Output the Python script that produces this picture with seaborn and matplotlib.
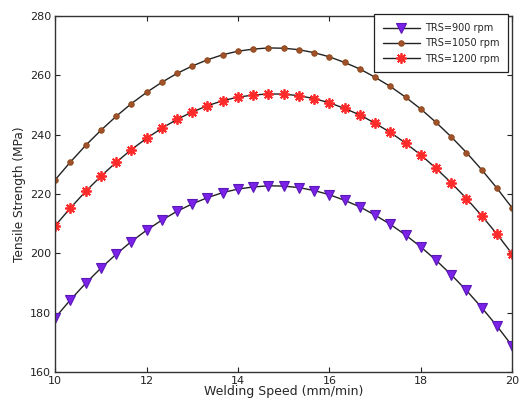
import numpy as np
import pandas as pd
import matplotlib
matplotlib.use("Agg")
import matplotlib.pyplot as plt
import seaborn as sns

speed = [10 + k / 3 for k in range(31)]

trs_900 = [178.3, 184.3, 189.9, 195.0, 199.7, 204.0, 207.8, 211.2, 214.2, 216.7,
           218.8, 220.5, 221.7, 222.4, 222.8, 222.7, 222.2, 221.2, 219.8, 217.9,
           215.7, 212.9, 209.8, 206.2, 202.2, 197.7, 192.8, 187.5, 181.7, 175.5, 168.8]
trs_1050 = [224.8, 230.8, 236.4, 241.5, 246.2, 250.5, 254.3, 257.7, 260.7, 263.2,
            265.3, 267.0, 268.2, 268.9, 269.3, 269.2, 268.7, 267.7, 266.3, 264.4,
            262.2, 259.4, 256.3, 252.7, 248.7, 244.2, 239.3, 234.0, 228.2, 222.0, 215.3]
trs_1200 = [209.3, 215.3, 220.9, 226.0, 230.7, 235.0, 238.8, 242.2, 245.2, 247.7,
            249.8, 251.5, 252.7, 253.4, 253.8, 253.7, 253.2, 252.2, 250.8, 248.9,
            246.7, 243.9, 240.8, 237.2, 233.2, 228.7, 223.8, 218.5, 212.7, 206.5, 199.8]

labels = ["TRS=900 rpm", "TRS=1050 rpm", "TRS=1200 rpm"]
x_ticks = [10, 12, 14, 16, 18, 20]
y_ticks = [160, 180, 200, 220, 240, 260, 280]

sns.set_style("ticks")
plt.rcParams['font.family'] = ['DejaVu Sans']

fig = plt.figure(figsize=(5.2, 4.05), dpi=100)
ax = fig.add_axes([0.106, 0.0815, 0.879, 0.8785])

styles = [
    dict(marker='v', markersize=7.5, markerfacecolor='#7A22E8', markeredgecolor='#5B18B8', markeredgewidth=0.8),
    dict(marker='o', markersize=4, markerfacecolor='#A0522D', markeredgecolor='#8B4513', markeredgewidth=0.6),
    dict(marker=(8, 2, 0), markersize=7.5, markerfacecolor='#FF2A2A', markeredgecolor='#FF2A2A', markeredgewidth=1.3),
]
for vals, lab, st in zip([trs_900, trs_1050, trs_1200], labels, styles):
    df = pd.DataFrame({"speed": speed, "ts": vals})
    sns.lineplot(data=df, x="speed", y="ts", ax=ax, color='#222222', linewidth=1.0,
                 label=lab, **st)

ax.set_xlim(10, 20)
ax.set_ylim(160, 280)
ax.set_xticks(x_ticks)
ax.set_yticks(y_ticks)
ax.tick_params(direction='in', top=True, right=True, labelsize=8, length=3.5, width=0.8,
               colors='#222222', pad=3)
for s in ax.spines.values():
    s.set_color('#333333')
    s.set_linewidth(1.0)
ax.set_xlabel("Welding Speed (mm/min)", fontsize=9, labelpad=-1)
ax.set_ylabel("Tensile Strength (MPa)", fontsize=8.7, labelpad=3)

leg = ax.legend(loc='upper right', bbox_to_anchor=(0.977, 0.965), bbox_transform=fig.transFigure,
                fontsize=7, frameon=True, fancybox=False, framealpha=1,
                edgecolor='#222222', borderpad=0.9, handlelength=3.8, handletextpad=0.5,
                labelspacing=0.55, borderaxespad=0.0)
leg.get_frame().set_linewidth(0.9)

fig.savefig("out.png", dpi=100)
